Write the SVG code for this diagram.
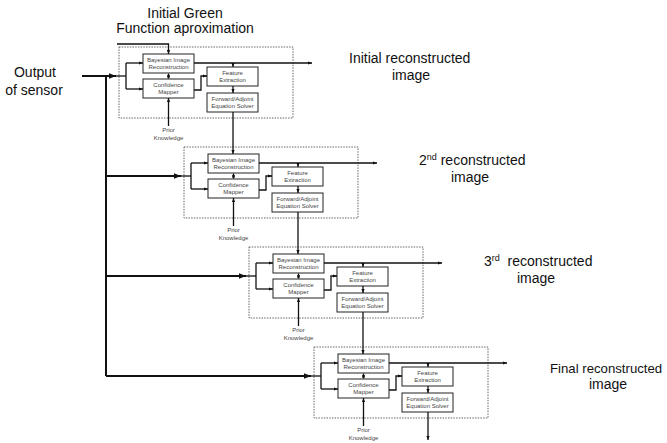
<svg xmlns="http://www.w3.org/2000/svg" width="667" height="443" viewBox="0 0 667 443">
  <style>
    .lbl { font-family: "Liberation Sans", Arial, sans-serif; font-size: 14px; fill: #111; }
    .sup { font-size: 9px; }
    .box rect { fill: #fff; stroke: #222; stroke-width: 1; }
    .box text, .prior { font-family: "Liberation Sans", Arial, sans-serif; font-size: 6px; fill: #444; text-anchor: middle; }
    .frame { fill: none; stroke: #666; stroke-width: 1; stroke-dasharray: 1.5 1.2; }
    .wire { fill: none; stroke: #111; stroke-width: 1.3; }
    .trunk { fill: none; stroke: #111; stroke-width: 2; }
  </style>
  <defs>
    <marker id="ah" viewBox="0 0 10 10" refX="10" refY="5" markerWidth="4" markerHeight="4" markerUnits="userSpaceOnUse" orient="auto-start-reverse">
      <path d="M0,1 L10,5 L0,9 z" fill="#111"/>
    </marker>
    <marker id="ahb" viewBox="0 0 10 10" refX="10" refY="5" markerWidth="8" markerHeight="7" markerUnits="userSpaceOnUse" orient="auto">
      <path d="M0,1 L10,5 L0,9 z" fill="#111"/>
    </marker>
    <!-- one reconstruction stage: boxes only, origin at the Bayesian box -->
    <g id="stageBoxes">
      <rect class="frame" x="-24" y="-7" width="174" height="71"/>
      <g class="box">
        <rect x="0" y="0" width="51" height="19"/>
        <text x="25.5" y="8">Bayesian Image</text>
        <text x="25.5" y="15">Reconstruction</text>
      </g>
      <g class="box">
        <rect x="0" y="25" width="51" height="19"/>
        <text x="25.5" y="33">Confidence</text>
        <text x="25.5" y="40">Mapper</text>
      </g>
      <g class="box">
        <rect x="64" y="13" width="51" height="19"/>
        <text x="89.5" y="21">Feature</text>
        <text x="89.5" y="28">Extraction</text>
      </g>
      <g class="box">
        <rect x="64" y="39" width="51" height="19"/>
        <text x="89.5" y="47">Forward/Adjoint</text>
        <text x="89.5" y="54">Equation Solver</text>
      </g>
      <text class="prior" x="25.5" y="78">Prior</text>
      <text class="prior" x="25.5" y="86">Knowledge</text>
    </g>
    <!-- wiring inside one stage -->
    <g id="stageWires">
      <path class="wire" d="M-27,22 H-17"/>
      <path class="wire" d="M-17,9 V35"/>
      <path class="wire" d="M-17,9 H0" marker-end="url(#ah)"/>
      <path class="wire" d="M-17,35 H0" marker-end="url(#ah)"/>
      <path class="wire" d="M51,9 H169" marker-end="url(#ah)"/>
      <path class="wire" d="M90,9 V13" marker-end="url(#ah)"/>
      <path class="wire" d="M25.5,19.5 V24.5" marker-start="url(#ah)" marker-end="url(#ah)"/>
      <path class="wire" d="M51,36 H58 V22 H64" marker-end="url(#ah)"/>
      <path class="wire" d="M90,32 V39" marker-end="url(#ah)"/>
      <path class="wire" d="M25.5,72 V44" marker-end="url(#ah)"/>
    </g>
  </defs>

  <!-- titles and outputs -->
  <text class="lbl" x="185" y="18" text-anchor="middle">Initial Green</text>
  <text class="lbl" x="185" y="33" text-anchor="middle">Function aproximation</text>
  <text class="lbl" x="35" y="77" text-anchor="middle">Output</text>
  <text class="lbl" x="34" y="95" text-anchor="middle">of sensor</text>

  <text class="lbl" x="349" y="63">Initial reconstructed</text>
  <text class="lbl" x="411" y="80" text-anchor="middle">image</text>
  <text class="lbl" x="419" y="165">2<tspan class="sup" dy="-5">nd</tspan><tspan dy="5"> reconstructed</tspan></text>
  <text class="lbl" x="470" y="182" text-anchor="middle">image</text>
  <text class="lbl" x="484" y="266" xml:space="preserve">3<tspan class="sup" dy="-5">rd</tspan><tspan dy="5">  reconstructed</tspan></text>
  <text class="lbl" x="536" y="283" text-anchor="middle">image</text>
  <text class="lbl" x="550" y="373" style="font-size:13.2px">Final reconstructed</text>
  <text class="lbl" x="608" y="389" text-anchor="middle">image</text>

  <!-- stages -->
  <g id="stage1" transform="translate(143,54)"><use href="#stageBoxes"/></g>
  <g id="stage2" transform="translate(208,154)"><use href="#stageBoxes"/></g>
  <g id="stage3" transform="translate(273,254)"><use href="#stageBoxes"/></g>
  <g id="stage4" transform="translate(338,354)"><use href="#stageBoxes"/></g>

  <!-- connectors -->
  <g id="connectors">
    <path class="trunk" d="M82,76 H116" marker-end="url(#ahb)"/>
    <path class="trunk" d="M106,76 V376"/>
    <path class="trunk" d="M106,176 H181" marker-end="url(#ahb)"/>
    <path class="trunk" d="M106,276 H246" marker-end="url(#ahb)"/>
    <path class="trunk" d="M106,376 H311" marker-end="url(#ahb)"/>
    <path class="wire" d="M117,44 H168.5 V54" marker-end="url(#ah)"/>
    <g transform="translate(143,54)"><use href="#stageWires"/><path class="wire" d="M90,58 V100" marker-end="url(#ah)"/></g>
    <g transform="translate(208,154)"><use href="#stageWires"/><path class="wire" d="M90,58 V100" marker-end="url(#ah)"/></g>
    <g transform="translate(273,254)"><use href="#stageWires"/><path class="wire" d="M90,58 V100" marker-end="url(#ah)"/></g>
    <g transform="translate(338,354)"><use href="#stageWires"/><path class="wire" d="M90,58 V86" marker-end="url(#ah)"/></g>
  </g>
</svg>
